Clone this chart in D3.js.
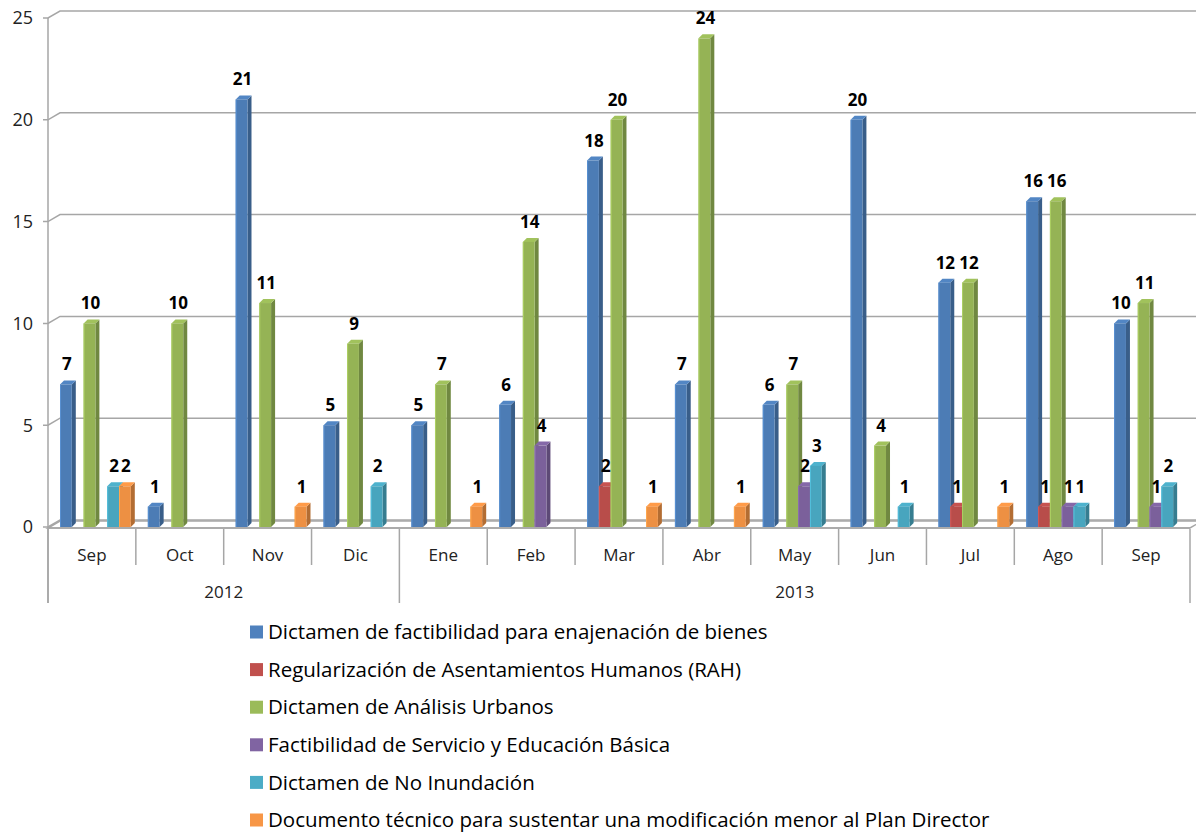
<!DOCTYPE html>
<html><head><meta charset="utf-8">
<script src="https://cdn.jsdelivr.net/npm/d3@7"></script>
<style>
html,body{margin:0;padding:0;background:#fff;}
svg{display:block;font-family:"Open Sans",sans-serif;}
</style></head>
<body><svg id="c" width="1196" height="833"></svg>
<script>
const months = ["Sep","Oct","Nov","Dic","Ene","Feb","Mar","Abr","May","Jun","Jul","Ago","Sep"];
const years = [{label:"2012", from:0, to:4},{label:"2013", from:4, to:13}];
const seriesNames = [
  "Dictamen de factibilidad para enajenación de bienes",
  "Regularización de Asentamientos Humanos (RAH)",
  "Dictamen de Análisis Urbanos",
  "Factibilidad de Servicio y Educación Básica",
  "Dictamen de No Inundación",
  "Documento técnico para sustentar una modificación menor al Plan Director"
];
const seriesColors = ["#4F81BD","#C0504D","#9BBB59","#8064A2","#4BACC6","#F79646"];
const dictamenBienes   = [7,1,21,5,5,6,18,7,6,20,12,16,10];
const rah              = [null,null,null,null,null,null,2,null,null,null,1,1,null];
const analisisUrbanos  = [10,10,11,9,7,14,20,24,7,4,12,16,11];
const servicioEducacion= [null,null,null,null,null,4,null,null,2,null,null,1,1];
const noInundacion     = [2,null,null,2,null,null,null,null,3,1,null,1,2];
const documentoTecnico = [2,null,1,null,1,null,1,1,null,null,1,null,null];
const seriesValues = [dictamenBienes, rah, analisisUrbanos, servicioEducacion, noInundacion, documentoTecnico];
const yTicks = [0,5,10,15,20,25];

const svg = d3.select("#c");
const x0 = 48, x1 = 1190, yBase = 527, yTop = 18;
const backDx = 12, backDy = -7;
const y = d3.scaleLinear().domain([0,25]).range([yBase, yTop]);
const xBand = d3.scaleBand().domain(d3.range(months.length)).range([x0, x1]).padding(0);
const bw = xBand.bandwidth();
const xSeries = d3.scaleBand().domain(d3.range(seriesNames.length)).range([12, 12 + 6*11.8]).padding(0);
const grid = "#a6a6a6";
const txt = "#222";

// floor
const gF = svg.append("g");
gF.append("path").attr("d", `M${x0},${yBase+1}L${x0+backDx},${yBase+1+backDy}L${x1+backDx},${yBase+1+backDy}L${x1},${yBase+1}Z`)
  .attr("fill","#fff").attr("stroke",grid).attr("stroke-width",1.5);

// gridlines
const gG = svg.append("g");
yTicks.forEach(t => {
  const yy = y(t);
  gG.append("path").attr("d", `M${x0-5},${yy}L${x0},${yy}L${x0+backDx},${yy+backDy}L1196,${yy+backDy}`)
    .attr("fill","none").attr("stroke",grid).attr("stroke-width",1.5);
  gG.append("text").attr("x", 33).attr("y", yy).attr("dy","0.35em").attr("text-anchor","end")
    .attr("font-size",18).attr("fill",txt).text(t);
});
// vertical axis
gG.append("line").attr("x1",x0).attr("x2",x0).attr("y1",yTop).attr("y2",603).attr("stroke",grid).attr("stroke-width",1.5);

// category axis
const gC = svg.append("g");
gC.append("line").attr("x1",x0).attr("x2",x1).attr("y1",yBase+1).attr("y2",yBase+1).attr("stroke",grid).attr("stroke-width",1.5);
d3.range(months.length+1).forEach(i => {
  const xx = x0 + i*bw;
  const long = years.some(yr => yr.from === i || yr.to === i);
  gC.append("line").attr("x1",xx).attr("x2",xx).attr("y1",yBase+2).attr("y2", long ? 603 : 565)
    .attr("stroke",grid).attr("stroke-width",1.5);
});
months.forEach((m,i) => {
  gC.append("text").attr("x", xBand(i)+bw/2).attr("y",555).attr("dy","0.35em").attr("text-anchor","middle")
    .attr("font-size",17).attr("fill",txt).text(m);
});
years.forEach(yr => {
  gC.append("text").attr("x", (x0+yr.from*bw + x0+yr.to*bw)/2).attr("y",592).attr("dy","0.35em").attr("text-anchor","middle")
    .attr("font-size",17).attr("fill",txt).text(yr.label);
});

// bars
const dx = 4, dy = -4;
const gB = svg.append("g");
const bars = [];
months.forEach((m,c) => {
  seriesValues.forEach((vals,s) => {
    const v = vals[c];
    if (v == null) return;
    bars.push({c, s, v});
  });
});
const w = xSeries.bandwidth();
bars.forEach(b => {
  const bx = xBand(b.c) + xSeries(b.s);
  const top = y(b.v), bot = y(0);
  const col = d3.color(seriesColors[b.s]);
  const g = gB.append("g");
  g.append("path").attr("d", `M${bx+w},${bot}L${bx+w},${top}L${bx+w+dx},${top+dy}L${bx+w+dx},${bot+dy}Z`)
    .attr("fill", col.darker(0.9));
  g.append("path").attr("d", `M${bx},${top}L${bx+dx},${top+dy}L${bx+w+dx},${top+dy}L${bx+w},${top}Z`)
    .attr("fill", col.brighter(0.1));
  g.append("rect").attr("x",bx).attr("y",top).attr("width",w).attr("height",bot-top)
    .attr("fill", col.darker(0.12));
  g.append("line").attr("x1",bx+0.5).attr("x2",bx+0.5).attr("y1",top).attr("y2",bot).attr("stroke",col.brighter(0.3)).attr("stroke-width",1);
});
// labels
const gL = svg.append("g");
bars.forEach(b => {
  const bx = xBand(b.c) + xSeries(b.s);
  gL.append("text").attr("x", bx + w/2 + 1).attr("y", y(b.v) - 14)
    .attr("text-anchor","middle").attr("font-size",17).attr("font-weight","bold").attr("fill","#000").text(b.v);
});

// legend
const gLeg = svg.append("g");
seriesNames.forEach((n,i) => {
  const yy = 632 + i*37.6;
  gLeg.append("rect").attr("x",250).attr("y",yy-6.5).attr("width",13).attr("height",13).attr("fill",seriesColors[i]);
  gLeg.append("text").attr("x",268).attr("y",yy).attr("dy","0.35em").attr("font-size",20.5).attr("fill","#000").text(n);
});
</script></body></html>
